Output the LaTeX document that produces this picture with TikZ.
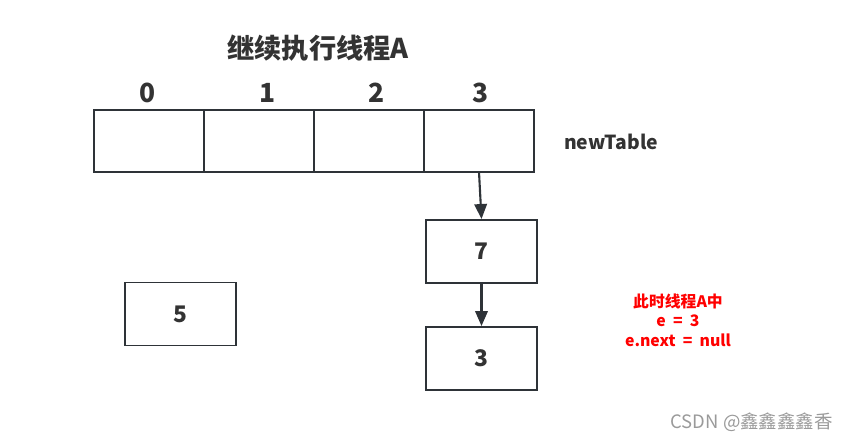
\documentclass[tikz,border=0pt]{standalone}
\usepackage{fontspec}
\setmainfont{Noto Sans CJK SC}
\usetikzlibrary{arrows.meta,positioning}
\definecolor{ink}{HTML}{2E3338}
\definecolor{labelgray}{HTML}{333333}
\definecolor{noteRed}{HTML}{FF0000}
\definecolor{markgray}{HTML}{9A9A9A}
\tikzset{
  every node/.style={text=labelgray},
  cell box/.style={draw=ink,line width=1.1pt,outer sep=0pt,
    minimum width=2.2cm,minimum height=1.24cm,inner sep=0pt},
  entry box/.style={draw=ink,line width=1.1pt,fill=white,
    minimum width=2.22cm,minimum height=1.26cm,inner sep=0pt,
    font=\fontsize{13}{15}\selectfont\bfseries},
  index label/.style={font=\fontsize{15}{17}\selectfont\bfseries},
  link arrow/.style={-{Triangle[length=3mm,width=2.5mm]},line width=1.2pt,draw=ink},
  note text/.style={font=\fontsize{9}{11}\selectfont\bfseries,text=noteRed,align=center},
}
\begin{document}
\begin{tikzpicture}
  \useasboundingbox (0,0) rectangle (17.08,-8.82);

  \node[font=\fontsize{15.5}{18}\selectfont\bfseries] (title) at (6.36,-0.96) {继续执行线程A};

  % newTable cells
  \node[cell box] (c0) at (2.98,-2.82) {};
  \node[cell box,right=0pt of c0] (c1) {};
  \node[cell box,right=0pt of c1] (c2) {};
  \node[cell box,right=0pt of c2] (c3) {};

  \node[index label] (i0) at (2.96,-1.86) {0};
  \node[index label] (i1) at (5.36,-1.86) {1};
  \node[index label] (i2) at (7.54,-1.86) {2};
  \node[index label] (i3) at (9.62,-1.86) {3};

  \node[anchor=west,font=\fontsize{11}{13}\selectfont\bfseries] (name) at (11.16,-2.84) {newTable};

  % entries
  \node[entry box] (e7) at (9.63,-5.03) {7};
  \node[entry box] (e3) at (9.63,-7.17) {3};
  \node[entry box] (e5) at (3.61,-6.28) {5};

  \draw[link arrow] (c3.south) -- (e7.north);
  \draw[link arrow] (e7.south) -- (e3.north);

  \node[note text] (note) at (13.56,-6.4) {此时线程A中\\e\ \ =\ \ 3\\e.next\ \ =\ \ null};

  \node[anchor=east,text=markgray,font=\fontsize{10.5}{12}\selectfont] (mark) at (16.78,-8.44) {CSDN @鑫鑫鑫鑫香};
\end{tikzpicture}
\end{document}
